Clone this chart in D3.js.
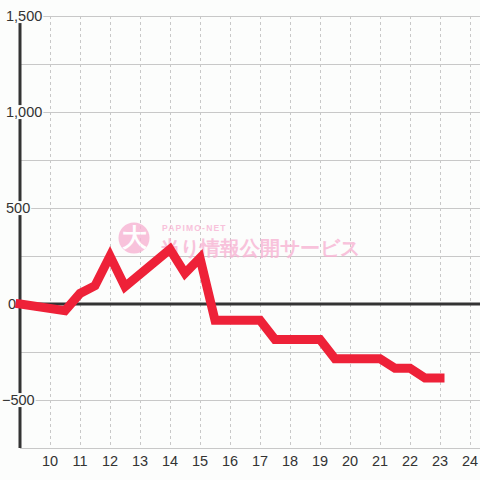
<!DOCTYPE html>
<html>
<head>
<meta charset="utf-8">
<script src="https://cdn.jsdelivr.net/npm/d3@7"></script>
<style>
  html, body { margin: 0; padding: 0; background: #fcfdfc; }
  svg { display: block; }
  text { font-family: "Liberation Sans", Arial, sans-serif; }
</style>
</head>
<body>
<svg id="chart" width="480" height="480"></svg>
<script>
// ---- data ----
const hours  = [9, 10.5, 11, 11.5, 12, 12.5, 14, 14.5, 15, 15.5, 17, 17.5, 19, 19.5, 21, 21.5, 22, 22.5, 23];
const values = [0, -35, 55, 95, 250, 90, 285, 160, 240, -85, -85, -185, -185, -285, -285, -335, -335, -385, -385];
const xTickLabels = [10, 11, 12, 13, 14, 15, 16, 17, 18, 19, 20, 21, 22, 23, 24];
const yTickLabels = [-500, 0, 500, 1000, 1500];
const yGridValues = [-750, -500, -250, 0, 250, 500, 750, 1000, 1250, 1500];

const W = 480, H = 480;
const bg = "#fcfdfc";
const svg = d3.select("#chart");
svg.append("rect").attr("width", W).attr("height", H).attr("fill", bg);

const x = d3.scaleLinear().domain([9, 9 + 460 / 30]).range([20, 480]);
const y = d3.scaleLinear().domain([-750, 1500]).range([448, 16]);

// horizontal grid
svg.append("g").selectAll("line").data(yGridValues.filter(v => v !== 0 && v !== -750)).join("line")
  .attr("x1", 20).attr("x2", 480)
  .attr("y1", d => y(d)).attr("y2", d => y(d))
  .attr("stroke", "#c8c8c8").attr("stroke-width", 1).attr("shape-rendering", "crispEdges");

// vertical dashed grid
svg.append("g").selectAll("line").data(xTickLabels).join("line")
  .attr("x1", d => x(d)).attr("x2", d => x(d))
  .attr("y1", y(1500)).attr("y2", y(-750))
  .attr("stroke", "#c8c8c8").attr("stroke-width", 1)
  .attr("stroke-dasharray", "3,3").attr("shape-rendering", "crispEdges");

// bottom line
svg.append("line").attr("x1", 20).attr("x2", 480).attr("y1", y(-750)).attr("y2", y(-750))
  .attr("stroke", "#c8c8c8").attr("stroke-width", 1).attr("shape-rendering", "crispEdges");

// watermark
const pink = "#f8b4d4";
const wm = svg.append("g").attr("opacity", 0.8);
wm.append("circle").attr("cx", 134).attr("cy", 238).attr("r", 15.5).attr("fill", pink);
wm.append("text").attr("x", 134).attr("y", 246).attr("text-anchor", "middle")
  .attr("font-family", "Noto Sans CJK JP").attr("font-weight", 900).attr("font-size", 25)
  .attr("fill", "#ffffff").text("大");
wm.append("text").attr("x", 162).attr("y", 231)
  .attr("font-family", "DejaVu Sans").attr("font-weight", "bold").attr("font-size", 8.5)
  .attr("letter-spacing", 1.2).attr("fill", pink).text("PAPIMO-NET");
wm.append("text").attr("x", 160).attr("y", 255)
  .attr("font-family", "Noto Sans CJK JP").attr("font-weight", 900).attr("font-size", 19.5)
  .attr("fill", pink).text("当り情報公開サービス");

// y axis line
svg.append("line").attr("x1", 20).attr("x2", 20).attr("y1", y(1500)).attr("y2", y(-750))
  .attr("stroke", "#333").attr("stroke-width", 3);

// zero line
svg.append("line").attr("x1", 20).attr("x2", 480).attr("y1", y(0)).attr("y2", y(0))
  .attr("stroke", "#333").attr("stroke-width", 3);

// y labels with background
const fmt = d3.format(",");
const yl = svg.append("g").selectAll("g").data(yTickLabels).join("g");
yl.each(function(d) {
  const g = d3.select(this);
  const tx = d < 0 ? 2 : (d === 0 ? 8 : 6);
  const t = g.append("text").attr("x", tx).attr("y", y(d)).attr("dy", "0.35em")
    .attr("font-size", 14.5).attr("fill", "#333").text(fmt(d));
  const bb = t.node().getBBox();
  g.insert("rect", "text").attr("x", bb.x - 1).attr("y", bb.y + 1).attr("width", bb.width + 2)
    .attr("height", bb.height - 2).attr("fill", bg);
});

// series line
const line = d3.line().x((d, i) => x(hours[i])).y(d => y(d));
svg.append("path").datum(values).attr("d", line)
  .attr("fill", "none").attr("stroke", "#ee2138").attr("stroke-width", 9)
  .attr("stroke-linejoin", "miter").attr("stroke-linecap", "square");

// x labels
svg.append("g").selectAll("text").data(xTickLabels).join("text")
  .attr("x", d => x(d)).attr("y", 461).attr("dy", "0.35em").attr("text-anchor", "middle")
  .attr("font-size", 14.5).attr("fill", "#333").text(d => d);
</script>
</body>
</html>
